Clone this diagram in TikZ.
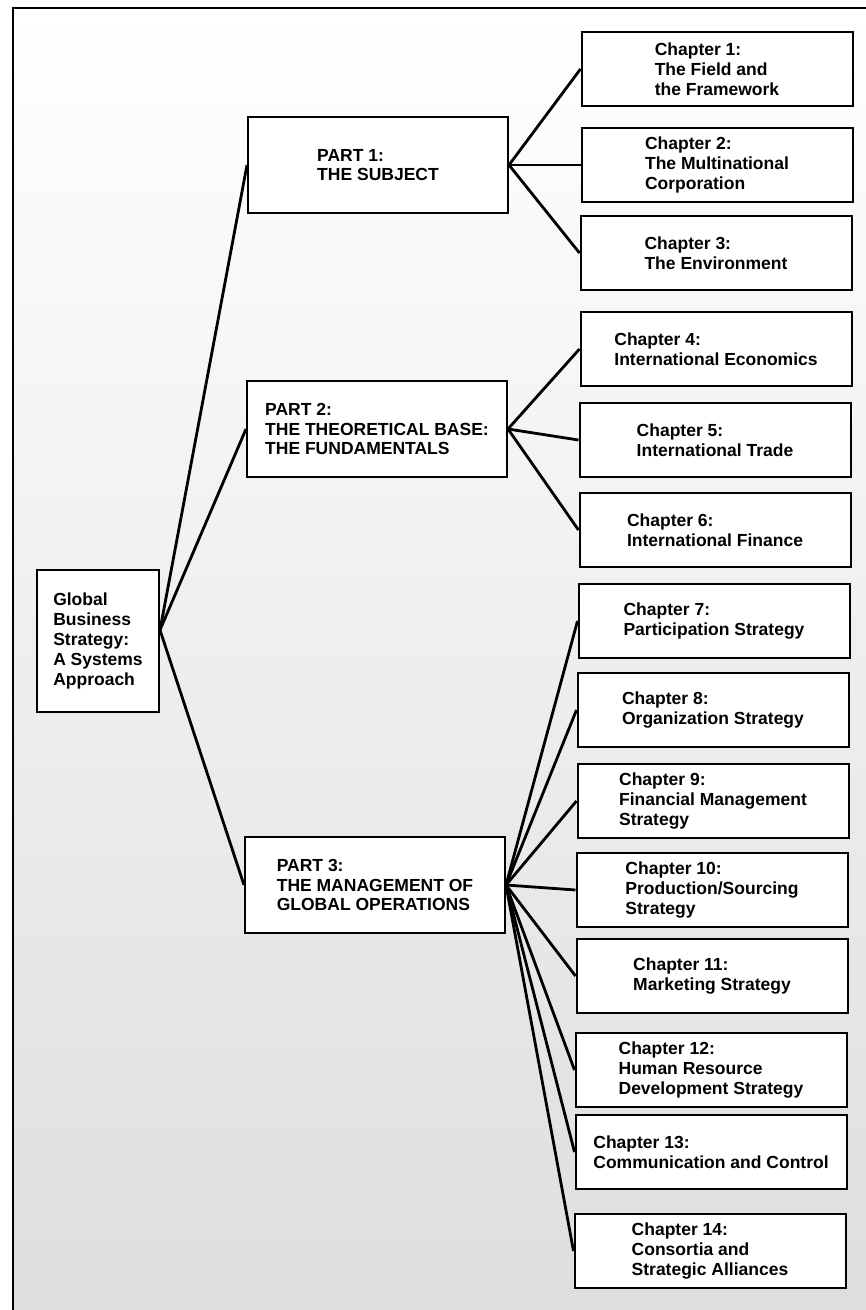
\documentclass[tikz,border=0pt]{standalone}
\usepackage{fontspec}
\setmainfont{Liberation Sans}

\begin{document}
\begin{tikzpicture}[x=1pt,y=-1pt]
\tikzstyle{every node}=[font=\bfseries\fontsize{17.5}{19.8}\selectfont]
\tikzstyle{box}=[draw, fill=white, line width=2pt, align=left]
\tikzstyle{part}=[box, minimum width=260pt, minimum height=96pt]
\tikzstyle{chapter}=[box, minimum width=271pt, minimum height=74pt]
\tikzstyle{link}=[line width=2.8pt]
\useasboundingbox (0,0) rectangle (866,1310);

% paper and frame
\shade[top color=white, bottom color=black!13] (13,8) rectangle (866,1310);
\draw[line width=2.2pt] (13,1310) -- (13,8) -- (866,8);

% book
\node[box, minimum width=122pt, minimum height=142pt] (book) at (98,641)
	{Global\\Business\\Strategy:\\A Systems\\Approach};

% parts
\node[part] (part1) at (378,165) {PART 1:\\THE SUBJECT};
\node[part] (part2) at (377,429) {PART 2:\\THE THEORETICAL BASE:\\THE FUNDAMENTALS};
\node[part] (part3) at (375,885) {PART 3:\\THE MANAGEMENT OF\\GLOBAL OPERATIONS};

% chapters
\node[chapter] (ch1) at (717,69) {Chapter 1:\\The Field and\\the Framework};
\node[chapter] (ch2) at (717,165) {Chapter 2:\\The Multinational\\Corporation};
\node[chapter] (ch3) at (716,253) {Chapter 3:\\The Environment};
\node[chapter] (ch4) at (716,349) {Chapter 4:\\International Economics};
\node[chapter] (ch5) at (715,440) {Chapter 5:\\International Trade};
\node[chapter] (ch6) at (715,530) {Chapter 6:\\International Finance};
\node[chapter] (ch7) at (714,621) {Chapter 7:\\Participation Strategy};
\node[chapter] (ch8) at (713,710) {Chapter 8:\\Organization Strategy};
\node[chapter] (ch9) at (713,801) {Chapter 9:\\Financial Management\\Strategy};
\node[chapter] (ch10) at (712,890) {Chapter 10:\\Production/Sourcing\\Strategy};
\node[chapter] (ch11) at (712,976) {Chapter 11:\\Marketing Strategy};
\node[chapter] (ch12) at (711,1070) {Chapter 12:\\Human Resource\\Development Strategy};
\node[chapter] (ch13) at (711,1152) {Chapter 13:\\Communication and Control};
\node[chapter] (ch14) at (710,1251) {Chapter 14:\\Consortia and\\Strategic Alliances};

% book to parts
\coordinate (hub) at ([yshift=11pt]book.east);
\draw[link] (hub) -- (part1.west);
\draw[link] (hub) -- (part2.west);
\draw[link] (hub) -- (part3.west);

% parts to chapters
\draw[link] (part1.east) -- (ch1.west);
\draw[link] (part1.east) -- (ch2.west);
\draw[link] (part1.east) -- (ch3.west);
\draw[link] (part2.east) -- (ch4.west);
\draw[link] (part2.east) -- (ch5.west);
\draw[link] (part2.east) -- (ch6.west);
\draw[link] (part3.east) -- (ch7.west);
\draw[link] (part3.east) -- (ch8.west);
\draw[link] (part3.east) -- (ch9.west);
\draw[link] (part3.east) -- (ch10.west);
\draw[link] (part3.east) -- (ch11.west);
\draw[link] (part3.east) -- (ch12.west);
\draw[link] (part3.east) -- (ch13.west);
\draw[link] (part3.east) -- (ch14.west);
\end{tikzpicture}
\end{document}
